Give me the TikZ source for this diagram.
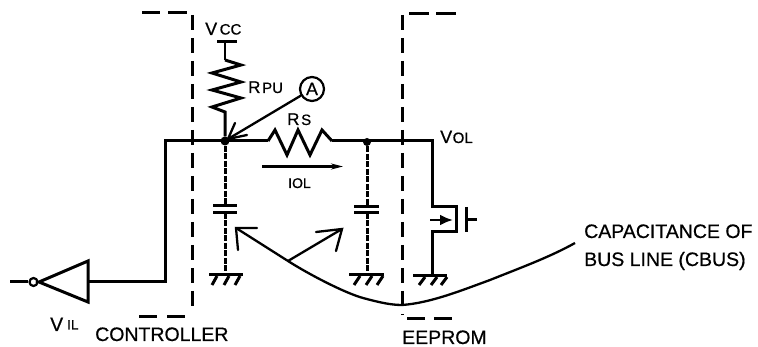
\documentclass[tikz,border=0pt]{standalone}
\usepackage{fontspec}
\setmainfont[FakeBold=0.6]{Liberation Sans}
\usetikzlibrary{arrows.meta}
\tikzset{
  wire/.style={line width=3pt},
  thin wire/.style={line width=2.2pt},
  busdash/.style={line width=3pt,dash pattern=on 15pt off 8pt},
  groupdash/.style={line width=3pt},
  stray/.style={line width=3pt,dash pattern=on 6pt off 1.5pt},
  barb/.style={line width=2.3pt,line cap=round},
  lab/.style={inner sep=0pt,anchor=base west,font=\fontsize{19.5}{19.5}\selectfont},
  small/.style={inner sep=0pt,anchor=base west,font=\fontsize{15}{15}\selectfont},
  mid/.style={inner sep=0pt,anchor=base west,font=\fontsize{17}{17}\selectfont},
  dotnode/.style={circle,fill=black,inner sep=0pt,minimum size=9pt},
}
\begin{document}
\begin{tikzpicture}[x=1pt,y=-1pt]
\useasboundingbox (0,0) rectangle (758,347);
% group outlines
\draw[groupdash] (142,13)--(160,13) (168,13)--(187,13) (139,317)--(157,317) (167,317)--(185,317);
\draw[busdash] (192.7,15)--(192.7,313);
\draw[groupdash] (409,14)--(429,14) (436,14)--(456,14) (407,319)--(425,319) (434,319)--(452,319);
\draw[busdash] (402,15)--(402,315);
% named points
\node[dotnode] (j1) at (225,141) {};
\node[dotnode,minimum size=8pt] (j2) at (367,142) {};
\node[draw,circle,line width=2.2pt,minimum size=24pt,inner sep=0pt,font=\fontsize{18}{18}\selectfont] (amm) at (312,89) {A};
\coordinate (vcc) at (225,42);
\coordinate (rsin) at (268,141);
\coordinate (rsout) at (332,141);
\coordinate (bl) at (165,141);
\coordinate (bb) at (165,282);
\coordinate (c1t) at (225,206);
\coordinate (c1b) at (225,213);
\coordinate (g1) at (225,275);
\coordinate (c2t) at (367,207);
\coordinate (c2b) at (367,213);
\coordinate (g2) at (367,275);
\coordinate (dr) at (432,141);
\coordinate (g3) at (432,276);
% inverter
\node[draw,circle,line width=2.2pt,minimum size=8pt,inner sep=0pt] (bub) at (33.5,282) {};
\coordinate (tip) at (39,282);
\coordinate (inv) at (88,282);
\coordinate (inl) at (10,282);
\draw[wire,line join=miter] (tip)--(88,261)--(88,302)--cycle;
\draw[wire] (inl)--(bub);
\draw[wire,line join=miter] (inv)--(bb)--(bl)--(rsin);
% Rpu
\draw[wire] (217,42)--(237,42);
\draw[thin wire] (vcc)--(225,60);
\draw[wire,line join=miter] (225,60)--(241,65)--(212,73)--(241,82)--(212,90)--(241,98)--(212,107)--(225,112)--(j1);
% Rs
\draw[wire,line join=miter] (rsin)--(275,130)--(287,155)--(298,130)--(310,155)--(322,130)--(rsout);
\draw[wire,line join=miter] (rsout)--(dr)--(432,207)--(456,207)--(456,232)--(432,232)--(g3);
% ammeter arrow
\coordinate (at) at (228,139);
\draw[barb] (amm)--(at);
\draw[barb] (235,123)--(at)--(247,135);
% current arrow
\draw[line width=2.3pt,-{Stealth[length=12pt,width=6pt]}] (262,166.5)--(343,166.5);
% capacitors
\draw[stray] (j1)--(c1t) (c1b)--(g1);
\draw[wire] (213,206)--(237,206) (213,213)--(237,213);
\draw[stray] (j2)--(c2t) (c2b)--(g2);
\draw[wire] (354,207)--(379,207) (354,213)--(379,213);
% grounds
\draw[wire] (209,275)--(243,275) (349,275)--(384,275) (413,276)--(447,276);
\draw[wire] (217,276)--(212,285) (229,276)--(224,285) (240,276)--(235,285)
            (360,276)--(354,285) (372,276)--(366,285) (383,276)--(377,285)
            (425,277)--(419,285) (437,277)--(431,285) (447,277)--(441,285);
% transistor
\draw[line width=2.5pt,-{Latex[length=13pt,width=11pt]}] (430,220)--(453,220);
\draw[wire] (466,207)--(466,232) (466,220)--(477,220);
% bus curve and arrows
\coordinate (k) at (288,261);
\coordinate (a1) at (236,228);
\coordinate (a2) at (342,229);
\draw[barb] (k)--(a1);
\draw[barb] (k)--(a2);
\draw[barb] (257,228)--(a1)--(238,250);
\draw[barb] (316,232)--(a2)--(336,251);
\draw[line width=2.3pt] (k) .. controls (310,275) and (345,293) .. (363,298)
  .. controls (378,302) and (390,305) .. (402,305)
  .. controls (430,303) and (460,291) .. (490,280)
  .. controls (520,268) and (550,257) .. (575,243);
% labels
\node[lab,font=\fontsize{18}{18}\selectfont] (lv) at (205,35) {V};
\node[small] (lcc) at (219.5,34.5) {CC};
\node[mid] (lrp) at (248,93) {R};
\node[small] (lpu) at (262,93) {PU};
\node[mid] (lrs) at (287,125) {R};
\node[small] (lss) at (301,125) {S};
\node[lab,font=\fontsize{18}{18}\selectfont] (lvol) at (440,143) {V};
\node[small] (lol) at (452.5,143) {OL};
\node[small,font=\fontsize{14}{14}\selectfont] (liol) at (288,188) {IOL};
\node[lab] (lvil) at (50,331) {V};
\node[small,font=\fontsize{13.5}{13.5}\selectfont] (lil) at (67,329.5) {IL};
\node[lab] (lc) at (95,341) {CONTROLLER};
\node[lab] (le) at (402,344) {EEPROM};
\node[lab] (lt1) at (584,238) {CAPACITANCE OF};
\node[lab] (lt2) at (584,266) {BUS LINE (CBUS)};
\end{tikzpicture}
\end{document}
